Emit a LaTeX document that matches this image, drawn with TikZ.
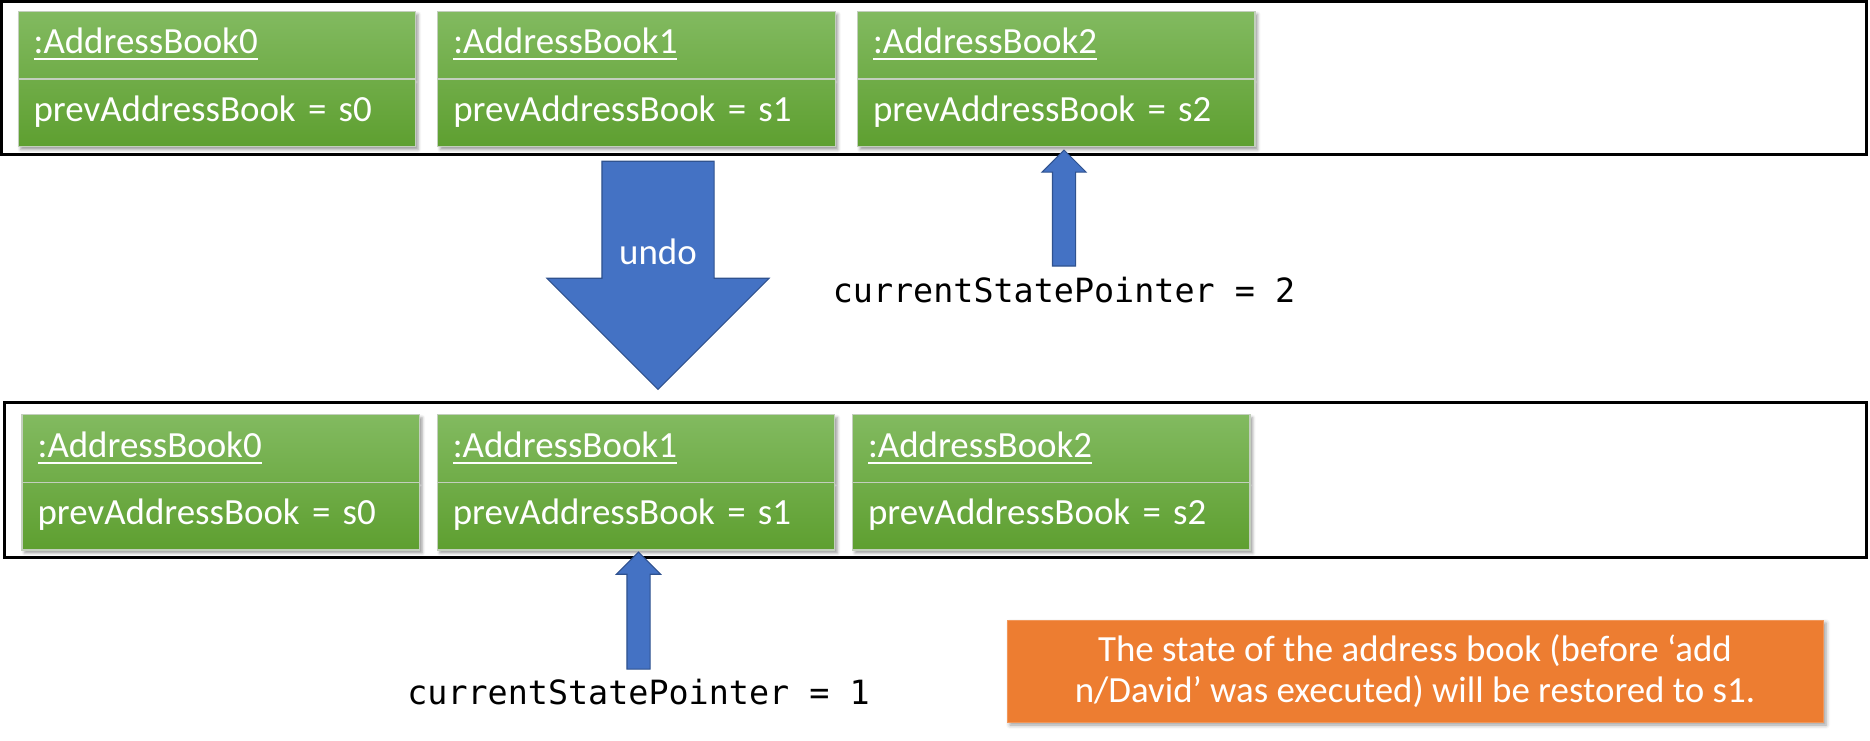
\documentclass[tikz,border=0pt]{standalone}
\usepackage{fontspec}
\setmainfont{Carlito}
\newfontfamily\ptrfont{DejaVu Sans Mono}
\usepackage{xcolor}
\usepackage{tikz}
\usetikzlibrary{shapes.multipart, shapes.arrows, positioning, shadows.blur}

\definecolor{abgreenA}{HTML}{82BA60}
\definecolor{abgreenB}{HTML}{5E9F30}
\definecolor{abline}{HTML}{C3CFBD}
\definecolor{arrowblue}{HTML}{4472C4}
\definecolor{arrowedge}{HTML}{2F528F}
\definecolor{noteorange}{HTML}{ED7D31}

\newcommand{\abstrut}{\rule[-13.9pt]{0pt}{37.8pt}}
\newcommand{\abtitle}[1]{\setbox0\hbox{#1}\rlap{\rule[-3.6pt]{\wd0}{1.1pt}}\box0}

\begin{document}
\begin{tikzpicture}[
  node distance=0.42cm,
  abox/.style={rectangle split, rectangle split parts=2, draw=abline, line width=0.7pt,
               top color=abgreenA, bottom color=abgreenB, text=white,
               text width=7.33cm, align=left, inner xsep=0.31cm, inner ysep=0pt,
               font=\fontsize{21}{25}\selectfont,
               blur shadow={shadow xshift=0.05cm, shadow yshift=-0.06cm, shadow blur radius=0.06cm}},
  statebar/.style={draw=black, line width=0.06cm, inner sep=0pt},
  ptr/.style={font=\ptrfont\fontsize{19}{23}\selectfont, inner sep=0.1cm},
  ptrarrow/.style={single arrow, draw=arrowedge, fill=arrowblue, line width=0.6pt,
                   inner xsep=0pt, inner ysep=0.22cm, single arrow head extend=0.21cm,
                   single arrow tip angle=90},
  undoarrow/.style={single arrow, draw=arrowedge, fill=arrowblue, line width=0.6pt,
                    minimum height=4.56cm, inner xsep=0pt, inner ysep=1.11cm,
                    single arrow head extend=1.1cm, single arrow tip angle=90},
  notebox/.style={rectangle, draw=noteorange!80!white, fill=noteorange, text=white, align=center,
                  minimum width=16.32cm, minimum height=2.04cm,
                  font=\fontsize{21}{23.8}\selectfont,
                  blur shadow={shadow xshift=0.06cm, shadow yshift=-0.06cm, shadow blur radius=0.08cm}}
]
\useasboundingbox (0,0) rectangle (37.4,-14.8);

% before undo
\node[abox, anchor=north west] (top0) at (0.35,-0.214)
  {\abstrut\abtitle{:AddressBook0}\nodepart{two}\abstrut prevAddressBook = s0};
\node[abox, right=of top0] (top1)
  {\abstrut\abtitle{:AddressBook1}\nodepart{two}\abstrut prevAddressBook = s1};
\node[abox, right=of top1] (top2)
  {\abstrut\abtitle{:AddressBook2}\nodepart{two}\abstrut prevAddressBook = s2};
\node[statebar, minimum width=37.28cm, minimum height=3.066cm] (topbar) at (18.68,-1.553) {};

\node[ptr] (ptr2) at (21.28,-5.8) {currentStatePointer = 2};
\path (ptr2.north) -- (ptr2.north |- topbar.south)
  node[midway, ptrarrow, rotate=90, minimum height=2.32cm] (up2) {};

\node[undoarrow, rotate=-90] (undo) at (13.16,-4.945) {};
\node[text=white, font=\fontsize{21}{25}\selectfont] (undolabel) at (13.16,-5.04) {undo};

% after undo
\node[abox, anchor=north west] (bot0) at (0.43,-8.28)
  {\abstrut\abtitle{:AddressBook0}\nodepart{two}\abstrut prevAddressBook = s0};
\node[abox, right=0.33cm of bot0] (bot1)
  {\abstrut\abtitle{:AddressBook1}\nodepart{two}\abstrut prevAddressBook = s1};
\node[abox, right=0.33cm of bot1] (bot2)
  {\abstrut\abtitle{:AddressBook2}\nodepart{two}\abstrut prevAddressBook = s2};
\node[statebar, minimum width=37.22cm, minimum height=3.108cm] (botbar) at (18.71,-9.6) {};

\node[ptr] (ptr1) at (12.77,-13.84) {currentStatePointer = 1};
\path (ptr1.north) -- (ptr1.north |- botbar.south)
  node[midway, ptrarrow, rotate=90, minimum height=2.34cm] (up1) {};

\node[notebox] (note) at (28.3,-13.42)
  {The state of the address book (before ‘add\\n/David’ was executed) will be restored to s1.};

\end{tikzpicture}
\end{document}
